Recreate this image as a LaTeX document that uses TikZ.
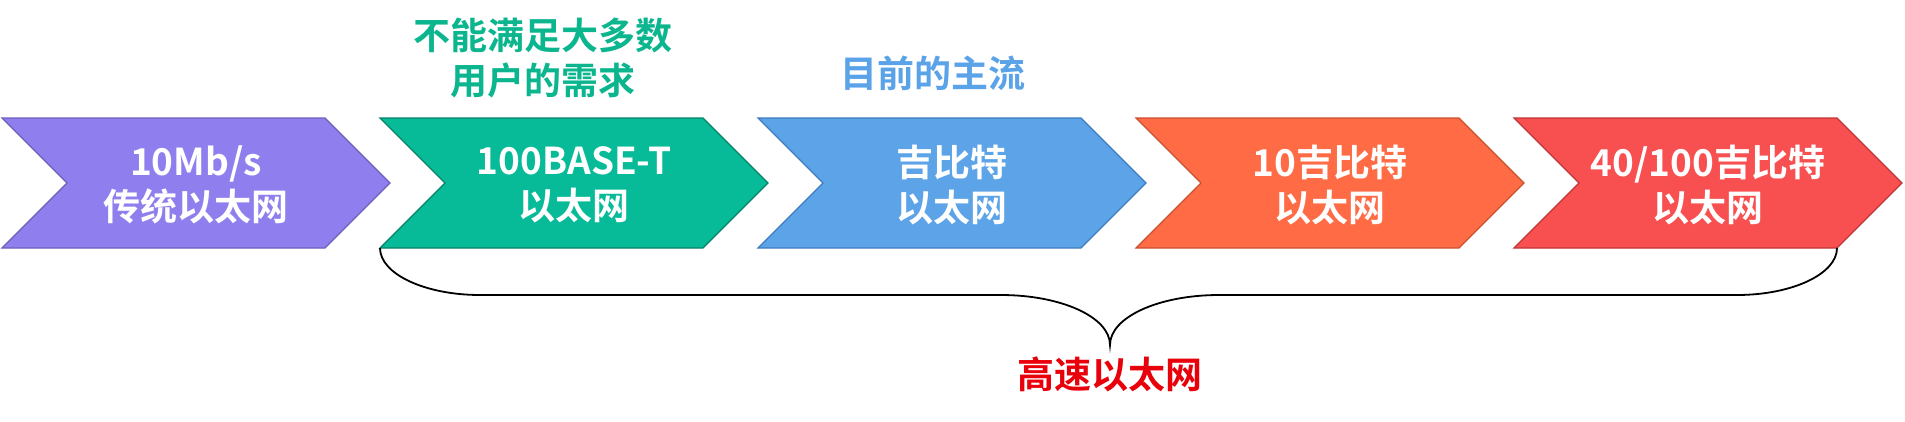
\documentclass[tikz,border=0pt]{standalone}
\usepackage{fontspec}
\setmainfont{Noto Sans CJK SC}[BoldFont={* Bold}]
\definecolor{c1f}{HTML}{8F7FEE}\definecolor{c1d}{HTML}{6B5FB8}
\definecolor{c2f}{HTML}{07BB99}\definecolor{c2d}{HTML}{07826A}
\definecolor{c3f}{HTML}{5CA3E8}\definecolor{c3d}{HTML}{3E7BC0}
\definecolor{c4f}{HTML}{FF6B45}\definecolor{c4d}{HTML}{C8502E}
\definecolor{c5f}{HTML}{F84F50}\definecolor{c5d}{HTML}{C03538}
\definecolor{greentxt}{HTML}{0BB58E}
\definecolor{bluetxt}{HTML}{5BA3E8}
\definecolor{redtxt}{HTML}{E8000B}
\tikzset{
  chevtext/.style={text=white,font=\bfseries\fontsize{37}{45}\selectfont,align=center,inner sep=0pt},
  note/.style={font=\bfseries\fontsize{37}{45}\selectfont,align=center,inner sep=0pt},
  bracepath/.style={draw=black,line width=1.8pt}
}
\begin{document}
\begin{tikzpicture}[x=1pt,y=-1pt]
\useasboundingbox (0,0) rectangle (1905,421);
\foreach \i/\t in {1/{10Mb/s\\传统以太网},2/{100BASE-T\\以太网},3/{吉比特\\以太网},4/{10吉比特\\以太网},5/{40/100吉比特\\以太网}}{
  \pgfmathsetmacro{\L}{2+378*(\i-1)}
  \path[fill=c\i f,draw=c\i d,line width=1.2pt,line join=miter]
    (\L,118) -- (\L+323,118) -- (\L+388,183) -- (\L+323,248) -- (\L,248) -- (\L+65,183) -- cycle;
  \coordinate (bl\i) at (\L,248);
  \coordinate (br\i) at (\L+323,248);
  \node[chevtext] (t\i) at (\L+194,185) {\t};
}
\node[note,text=greentxt] (n1) at (543,58) {不能满足大多数\\用户的需求};
\node[note,text=bluetxt] (n2) at (933,73) {目前的主流};
\node[note,text=redtxt] (n3) at (1110,374) {高速以太网};
\coordinate (tip) at (1110,345);
\draw[bracepath] (bl2) .. controls (380,274) and (425,295) .. (480,295)
  -- (1001,295) .. controls (1061,295) and (1110,317) .. (tip)
  .. controls (1110,317) and (1159,295) .. (1219,295)
  -- (1737,295) .. controls (1792,295) and (1837,274) .. (br5);
\end{tikzpicture}
\end{document}
